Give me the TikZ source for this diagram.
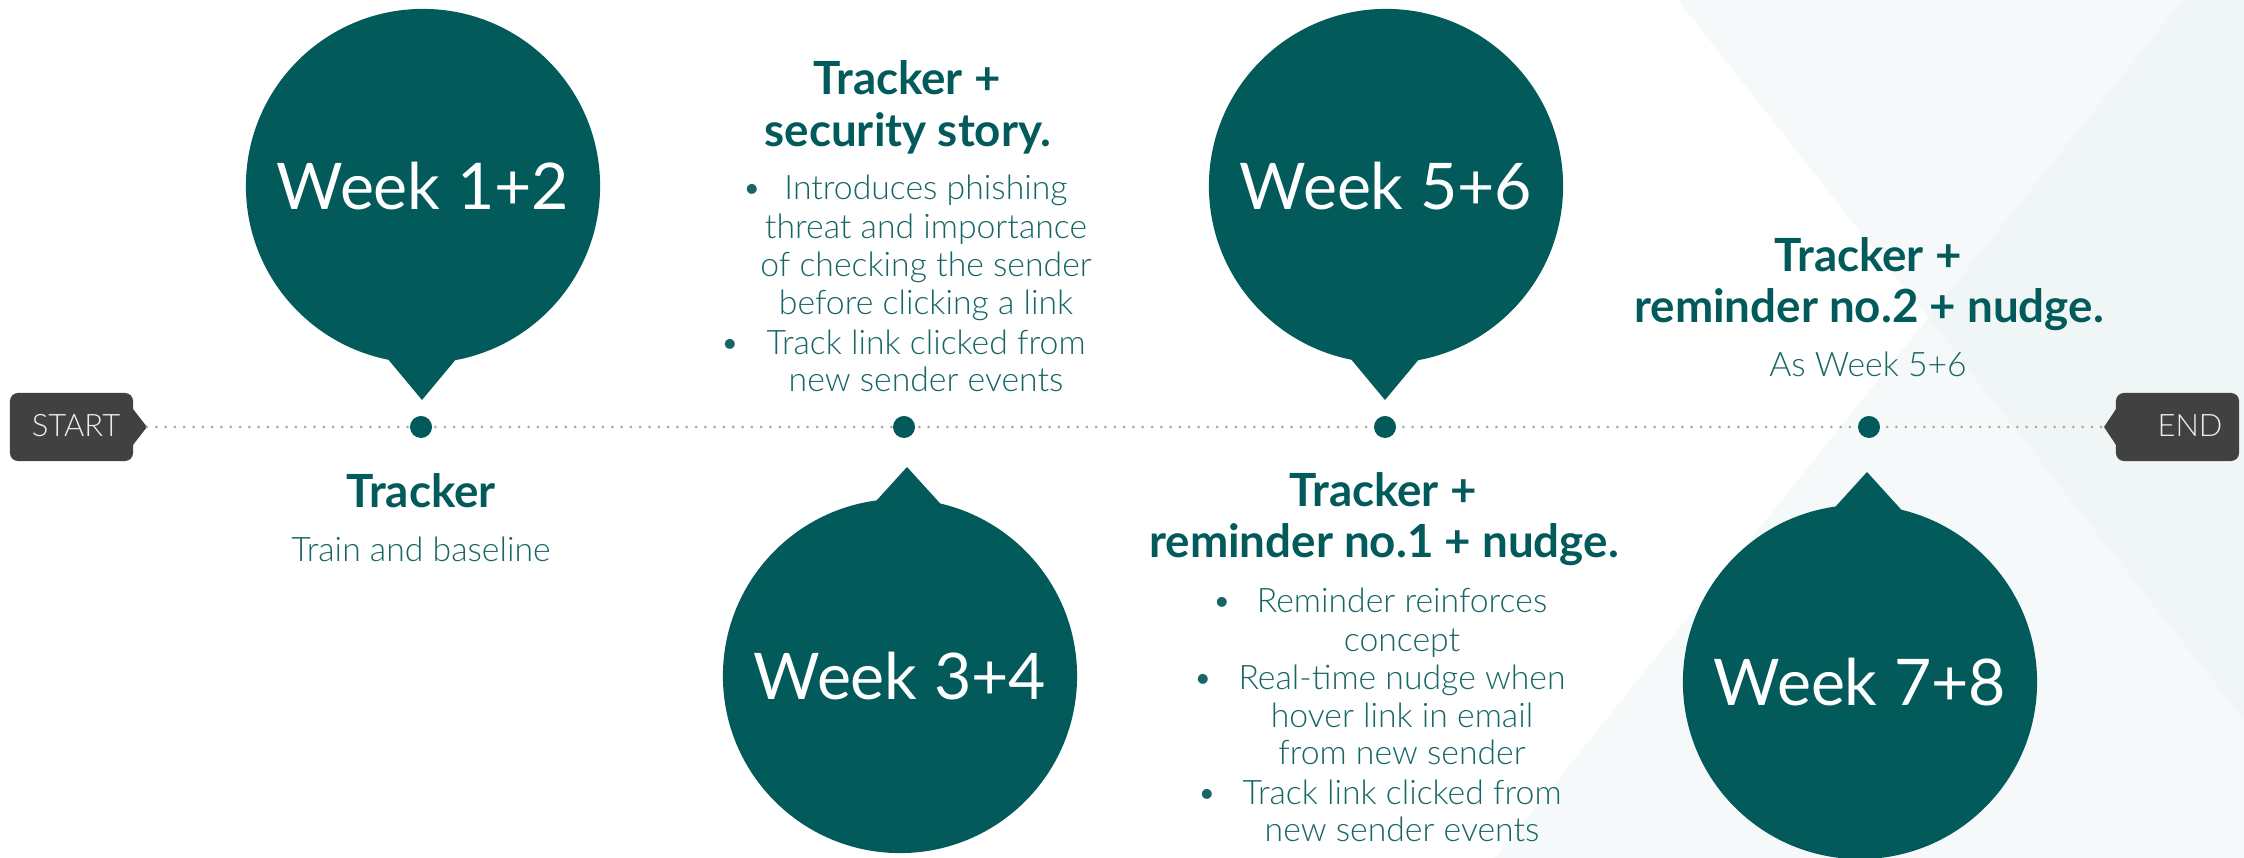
\documentclass[tikz,border=0pt]{standalone}
\usepackage{fontspec}
\setmainfont{Lato}
\newfontfamily\lightfont{Lato Light}
\definecolor{brandteal}{HTML}{035A5A}
\definecolor{bodyteal}{HTML}{176665}
\definecolor{taggray}{HTML}{414141}
\definecolor{tagtext}{HTML}{EEEEEE}
\definecolor{dotgray}{HTML}{A8A8A8}
\definecolor{tint}{HTML}{E4ECEE}
\begin{document}
\begin{tikzpicture}[x=0.01cm,y=-0.01cm,
  bubble/.style={circle, fill=brandteal, minimum size=3.54cm, inner sep=0pt,
    text=white, font=\fontsize{18.3}{20}\selectfont},
  milestone/.style={circle, fill=brandteal, minimum size=0.22cm, inner sep=0pt},
  tagbox/.style={rectangle, rounded corners=0.08cm, fill=taggray,
    minimum width=1.23cm, minimum height=0.68cm, inner sep=0pt},
  taglabel/.style={text=tagtext, font=\lightfont\fontsize{8.8}{10}\selectfont, inner sep=0pt, anchor=base},
  head/.style={text=brandteal, font=\bfseries\fontsize{13}{15}\selectfont, inner sep=0pt, anchor=base},
  body/.style={text=bodyteal, font=\lightfont\fontsize{9.6}{11}\selectfont, inner sep=0pt, anchor=base},
  timeline/.style={draw=dotgray, line width=0.03cm, line cap=round, dash pattern=on 0pt off 0.093cm},
]
% canvas
\useasboundingbox (0,0) rectangle (2244,858);
\fill[white] (0,0) rectangle (2244,858);

% crossing tinted bands on the right
\fill[tint, opacity=0.3] (1678,0) -- (2244,0) -- (2244,720) -- cycle;
\fill[tint, opacity=0.3] (2183,0) -- (2244,0) -- (2244,858) -- (1495,858) -- cycle;

% start / end tags
\node[tagbox] (startbox) at (71.5,427) {};
\fill[taggray] (133,409) -- (147,427) -- (133,445) -- cycle;
\coordinate (starttip) at (147,427);
\node[taglabel] (startlbl) at (76,437) {START};

\node[tagbox] (endbox) at (2177.5,427) {};
\fill[taggray] (2116,409) -- (2104,427) -- (2116,445) -- cycle;
\coordinate (endtip) at (2104,427);
\node[taglabel] (endlbl) at (2190,437) {END};

% timeline
\draw[timeline] (starttip) -- (endtip);

% milestones
\node[milestone] (m1) at (421,427) {};
\node[milestone] (m2) at (904,427) {};
\node[milestone] (m3) at (1385,427) {};
\node[milestone] (m4) at (1869,427) {};

% speech bubbles
\node[bubble] (w12) at (423,186) {Week 1+2};
\coordinate (p12) at (422,400);
\fill[brandteal] (p12) -- ++(-50,-60) -- ++(100,0) -- cycle;

\node[bubble] (w34) at (900,676) {Week 3+4};
\coordinate (p34) at (907,467);
\fill[brandteal] (p34) -- ++(-50,55) -- ++(100,0) -- cycle;

\node[bubble] (w56) at (1386,186) {Week 5+6};
\coordinate (p56) at (1385,400);
\fill[brandteal] (p56) -- ++(-50,-60) -- ++(100,0) -- cycle;

\node[bubble] (w78) at (1860,682) {Week 7+8};
\coordinate (p78) at (1867,472);
\fill[brandteal] (p78) -- ++(-50,55) -- ++(100,0) -- cycle;

% weeks 1+2
\node[head] (h1) at (421,508) {Tracker};
\node[body] (b1) at (421,562) {Train and baseline};

% weeks 3+4
\node[head] (h2a) at (907,95) {Tracker +};
\node[head] (h2b) at (908,147) {security story.};
\node[body] (d2a) at (752,200) {•};
\node[body] (b2a) at (926,200) {Introduces phishing};
\node[body] (b2b) at (926,239) {threat and importance};
\node[body] (b2c) at (926,277) {of checking the sender};
\node[body] (b2d) at (926,315) {before clicking a link};
\node[body] (d2b) at (730,355) {•};
\node[body] (b2e) at (926,355) {Track link clicked from};
\node[body] (b2f) at (926,392) {new sender events};

% weeks 5+6
\node[head] (h3a) at (1383,507) {Tracker +};
\node[head] (h3b) at (1384,558) {reminder no.1 + nudge.};
\node[body] (d3a) at (1222,613) {•};
\node[body] (b3a) at (1402,613) {Reminder reinforces};
\node[body] (b3b) at (1402,652) {concept};
\node[body] (d3b) at (1203,690) {•};
\node[body] (b3c) at (1402,690) {Real-time nudge when};
\node[body] (b3d) at (1402,728) {hover link in email};
\node[body] (b3e) at (1402,765) {from new sender};
\node[body] (d3c) at (1207,805) {•};
\node[body] (b3f) at (1402,805) {Track link clicked from};
\node[body] (b3g) at (1402,842) {new sender events};

% weeks 7+8
\node[head] (h4a) at (1868,272) {Tracker +};
\node[head] (h4b) at (1869,323) {reminder no.2 + nudge.};
\node[body] (b4) at (1868,377) {As Week 5+6};
\end{tikzpicture}
\end{document}
